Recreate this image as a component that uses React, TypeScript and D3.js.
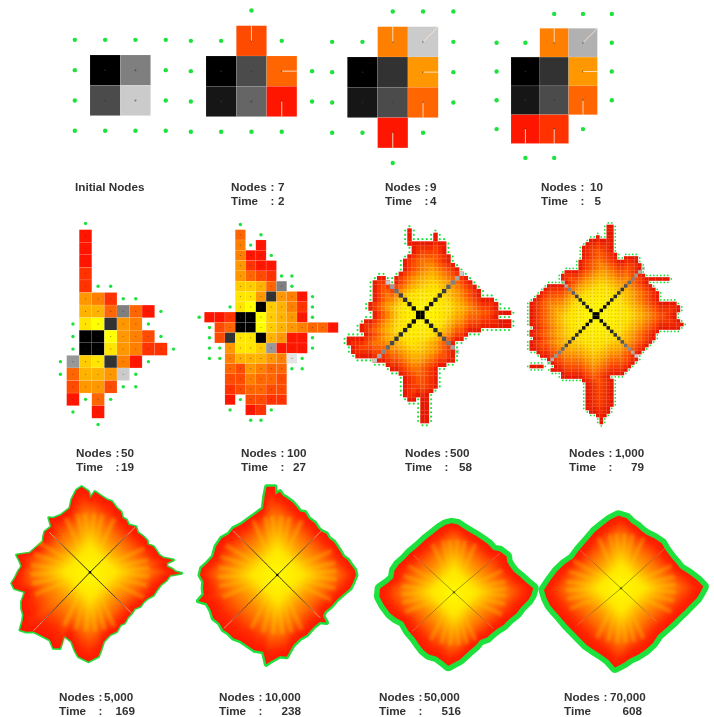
import React from "react";
import * as d3 from "d3";

// ---- Small panels: one string per grid row. '.' empty, '+' frontier node,
// 0-9 heat level (red to yellow), a-j grey level (black to light).
const rowsInitial = ["++++", "+af+", "+di+", "++++"];
const rows7 = ["..+", "++2+", "+ad3+", "+be0+", "++++"];
const rows9 = ["..+++", "++4i+", "+ac5+", "+bd3+", "++0+", "..+"];
const rows10 = ["..+++", "++4h+", "+ac5+", "+bd3+", "+01+", ".++"];
const rows50 = [
  "..+", "..0", "..0", "..0", "..1", "..1++", "..541++", "..663f30+",
  ".+89c54+", ".+aa9542+", ".+aa85411+", "+g78c40+", "+3665i+", ".2552++",
  ".0+3+", ".+.0", "...+",
];
const rows100 = [
  "....+", "....3.+", "....4+0", "....400+", "....5100", "....5321++", "....7763f+",
  "....885c540+", "...+89a7641+", "+001aa97650+", ".+23aa97654330", ".+2c88a6500+",
  ".++5887g000+", ".++466654j+", "...325433++", "...224332", "...123322", "...0+2211",
  "...+.01+", ".....++",
];

// leaf links: column, row, direction x, direction y
const links7 = [[1, 0, 0, -1], [2, 1, 1, 0], [2, 2, 0, 1]];
const links9 = [[1, 0, 0, -1], [2, 0, 1, -1], [2, 1, 1, 0], [2, 2, 0, 1], [1, 3, 0, 1]];
const links10 = [[1, 0, 0, -1], [2, 0, 1, -1], [2, 1, 1, 0], [2, 2, 0, 1], [0, 3, 0, 1], [1, 3, 0, 1]];

// ---- Medium panels: filled column spans per row (start, end, optional start, end)
const spans500 = [
  [14, 15], [14, 15, 20, 21], [14, 15, 20, 21], [14, 23], [15, 23], [15, 23], [14, 24],
  [13, 24], [13, 25], [13, 26], [12, 27], [7, 9, 11, 28], [6, 10, 11, 29], [6, 30], [6, 31], [6, 31],
  [6, 34], [5, 35], [5, 35], [6, 38], [6, 35], [4, 38], [3, 38], [3, 31], [4, 28], [0, 27], [0, 25],
  [1, 25], [1, 25], [2, 25], [6, 25], [9, 23], [10, 21], [12, 21], [13, 21], [13, 21], [13, 21],
  [13, 20], [13, 19], [14, 16, 17, 19], [17, 19], [17, 19], [17, 19], [17, 19], [17, 19],
];
const spans1000 = [
  [], [], [23, 25], [23, 25], [23, 25], [20, 21, 23, 25], [18, 25], [17, 25], [16, 25], [16, 25],
  [16, 26], [16, 26, 28, 32], [15, 32], [15, 33], [15, 33], [11, 33], [10, 34], [10, 41], [11, 35],
  [6, 36], [5, 37], [4, 38], [3, 38], [2, 38], [1, 43], [1, 44], [1, 44], [1, 43], [1, 43], [1, 44],
  [1, 45], [2, 44], [1, 38], [1, 37], [2, 37], [1, 36], [1, 35], [1, 34], [3, 33], [4, 32], [6, 32],
  [7, 31], [1, 5, 8, 30], [7, 29], [10, 28], [10, 24], [16, 25], [17, 25], [17, 25], [17, 25], [17, 25],
  [17, 25], [17, 25], [17, 25], [17, 24], [18, 24], [20, 23], [21, 22], [21, 22],
];
// diagonal arm lengths in cells: NE, SE, SW, NW
const arms500 = [9, 8, 10, 7];
const arms1000 = [13, 11, 13, 9];

// ---- Large panels: outline as [angle in degrees clockwise from north, radius]
const outline5000 = [[354.4,258],[359,242],[0,220],[3.5,242],[8,232],[13,223],[17,222],[22.6,208],[27,204],[31,190],[35,191],[39,183],[45.2,194],[50,186],[56,192],[61,196],[64,192],[68,205],[72,209],[76,213],[79,224],[81.6,253],[83,232],[85.8,231],[88,248],[89.6,255],[90.6,275],[92,240],[95.7,231],[100,215],[104.8,207],[110,202],[114,190],[118.8,183],[124,182],[129,172],[134.5,175],[140,176],[146,184],[150,182],[155.8,195],[162,196],[169,212],[172,235],[174.4,254],[181,268],[187.9,255],[191,238],[194.8,215],[203,204],[201.5,245],[205.8,253],[210.6,236],[216,238],[223.7,246],[227,262],[230.5,272],[234,250],[237.4,237],[242,232],[246.8,223],[250,212],[253.4,203],[258,232],[262,237],[266,224],[270.5,215],[275,205],[278.7,212],[283.3,226],[287.6,189],[295,177],[303.3,168],[308,176],[312,182],[320,179],[323,205],[325.8,196],[333,192],[342.6,201],[346,225],[350.8,250]];
const outline10000 = [[353.1,267],[358.5,265],[358.3,240],[1.8,250],[4,238],[7,232],[12,222],[15,214],[19.7,202],[24,205],[29,194],[36,192],[41,186],[45.6,186],[50,192],[55,190],[59.2,196],[64,198],[69,201],[74.5,205],[78,216],[82,223],[86.3,233],[90,236],[95,229],[100.4,222],[106,206],[112.8,193],[120,187],[127.6,180],[132,184],[134,205],[137.6,190],[145,190],[154,200],[160,202],[167,215],[170,228],[173.5,247],[178,243],[184.8,261],[187,270],[190.3,234],[197,236],[203.7,229],[209,226],[214.8,231],[220,228],[224.5,231],[230,226],[235.9,232],[242,226],[248.2,228],[251.8,249],[255,228],[259.8,226],[265,222],[270,232],[275,228],[280,212],[286,200],[295,203],[303.4,200],[310,190],[316.7,192],[325,186],[334.2,189],[341,194],[348.1,204],[351,240]];
const outline50000 = [[358,207],[3,204],[8,194],[15,186],[21,182],[27.9,178],[35,177],[42.9,173],[48,184],[55.9,191],[60,184],[65.4,185],[71,190],[76.6,203],[82,218],[87.1,238],[92,232],[95.9,224],[102,207],[108.5,198],[116,184],[123.5,178],[130,170],[137.4,167],[144,168],[151.4,163],[158,172],[166.4,183],[175,202],[184.4,221],[190,208],[195,200],[202,201],[208,196],[214,188],[220.3,181],[230,179],[240,176],[246,190],[251.8,202],[260,214],[266.7,224],[273,222],[278,200],[283,187],[290,190],[296.2,186],[304,178],[311.6,176],[322,174],[331,179],[340,186],[347.7,197],[353,204]];
const outline70000 = [[357.9,218],[4.6,211],[9,198],[14.3,191],[20,182],[25.7,178],[34,180],[42.1,182],[50,176],[59.4,177],[66,182],[71.3,187],[78,208],[84,230],[88.8,247],[93,238],[97.5,229],[103,214],[108.7,203],[116,192],[122.5,186],[132,180],[141.3,179],[150,190],[158.7,199],[166,206],[172.7,212],[178,224],[184.3,238],[190,218],[196.2,208],[204,202],[211.2,199],[220,194],[227.7,193],[236,196],[245.1,202],[251,210],[256.8,219],[263,226],[268.8,231],[276,214],[284.5,199],[293,184],[302.2,169],[312,170],[323.7,174],[335,186],[344.4,197],[351,208]];
// diagonals: angle and length
const rayAngles5000 = [45, 134.5, 224, 314.5];
const rayLengths5000 = [192, 175, 243, 171];
const rayAngles10000 = [45, 135, 225, 315];
const rayLengths10000 = [187, 182, 226, 187];
const rayAngles50000 = [49.7, 132.5, 227, 312.5];
const rayLengths50000 = [181, 160, 173, 166];
const rayAngles70000 = [47.7, 133, 230, 313];
const rayLengths70000 = [178, 146, 172, 168];
// lighter fan streaks around the axes, degrees
const streakAngles = [348, 355, 4, 12, 24, 66, 78, 86, 94, 103, 115, 156, 166, 175, 184, 194, 206, 248, 259, 268, 277, 288, 300, 336];

// ---- Captions
const nodeValues = ["7", "9", "10", "50", "100", "500", "1,000", "5,000", "10,000", "50,000", "70,000"];
const timeValues = ["2", "4", "5", "19", "27", "58", "79", "169", "238", "516", "608"];

// ---- Layout
const labelLeft = [231, 385, 541, 76, 241, 405, 569, 59, 219, 379, 564];
const labelValue = [278, 430, 590, 121, 287, 450, 615, 104, 265, 424, 610];
const labelTimeEnd = [0, 0, 601, 0, 306, 472, 644, 135, 301, 461, 642];
const labelY = [187, 187, 187, 453, 453, 453, 453, 697, 697, 697, 697];

const heat = d3.scaleLinear<string>().domain([0, 9]).range(["#ff1800", "#ffff00"]);
const grey = d3.scaleLinear<string>().domain([0, 9]).range(["#000000", "#e4e4e4"]);
const GREEN = "#1ee23c";

const ringColor = d3
  .scaleLinear<string>()
  .domain([0, 0.3, 0.5, 0.72, 0.9, 1])
  .range(["#ffff00", "#ffe800", "#ffa800", "#ff6a00", "#ff2a00", "#ff1a00"])
  .clamp(true);
const spanColor = d3
  .scaleLinear<string>()
  .domain([0, 0.45, 0.65, 0.85, 1])
  .range(["#ffff00", "#ffe000", "#ffa000", "#ff4a00", "#e81000"])
  .clamp(true);
const diagColor = d3.scaleLinear<string>().domain([0, 0.55, 1]).range(["#000000", "#3a3a3a", "#c8c8c8"]);
const radiusScale = d3.scaleLinear().domain([0, 1]).range([0, 1 / 3]);
const ringLevels = d3.range(0.97, 0, -0.025);

function cellFill(ch: string) {
  const code = ch.charCodeAt(0);
  if (code >= 48 && code <= 57) return heat(code - 48);
  return grey(code - 97);
}

function StringGrid({ rows, x0, y0, cell, dot, links }: { rows: string[]; x0: number; y0: number; cell: number; dot: number; links?: number[][] }) {
  const px = d3.scaleLinear().domain([0, 1]).range([x0 - cell, x0]);
  const py = d3.scaleLinear().domain([0, 1]).range([y0 - cell, y0]);
  const items = rows.flatMap((row, r) => row.split("").map((ch, c) => ({ ch, c, r }))).filter((d) => d.ch !== ".");
  return (
    <g>
      {items.filter((d) => d.ch !== "+").map((d) => (
        <rect key={`${d.c}-${d.r}`} x={px(d.c)} y={py(d.r)} width={cell} height={cell} fill={cellFill(d.ch)} stroke="#ffffff" strokeOpacity={0.18} strokeWidth={0.5} />
      ))}
      {items.filter((d) => d.ch !== "+").map((d) => (
        <circle key={`n${d.c}-${d.r}`} cx={px(d.c + 0.5)} cy={py(d.r + 0.5)} r={cell > 20 ? 1 : 0.6} fill="#333" fillOpacity={0.55} />
      ))}
      {(links || []).map((l, i) => (
        <line key={i} x1={x0 + (l[0] + 0.5) * cell} y1={y0 + (l[1] + 0.5) * cell} x2={x0 + (l[0] + 0.5 + l[2] / 2) * cell} y2={y0 + (l[1] + 0.5 + l[3] / 2) * cell} stroke="#ffe9d0" strokeWidth={1} strokeOpacity={0.85} />
      ))}
      {items.filter((d) => d.ch === "+").map((d) => (
        <circle key={`f${d.c}-${d.r}`} cx={px(d.c + 0.5)} cy={py(d.r + 0.5)} r={dot} fill={GREEN} />
      ))}
    </g>
  );
}

function SpanGrid({ spans, x0, y0, cell, centerCol, centerRow, arms }: { spans: number[][]; x0: number; y0: number; cell: number; centerCol: number; centerRow: number; arms: number[] }) {
  const filled = new Set<string>();
  const key = (c: number, r: number) => `${c},${r}`;
  spans.forEach((s, r) => {
    for (let i = 0; i < s.length; i += 2) d3.range(s[i], s[i + 1]).forEach((c) => filled.add(key(c, r)));
  });
  const cells = Array.from(filled).map((k) => k.split(",").map(Number));
  const depth = new Map<string, number>();
  let queue: number[][] = [];
  const nb = [[1, 0], [-1, 0], [0, 1], [0, -1]];
  const frontier = new Map<string, number[]>();
  cells.forEach(([c, r]) => {
    nb.forEach(([a, b]) => {
      if (!filled.has(key(c + a, r + b))) {
        frontier.set(key(c + a, r + b), [c + a, r + b]);
        if (!depth.has(key(c, r))) {
          depth.set(key(c, r), 1);
          queue.push([c, r]);
        }
      }
    });
  });
  while (queue.length) {
    const next: number[][] = [];
    queue.forEach(([c, r]) => {
      nb.forEach(([a, b]) => {
        const k = key(c + a, r + b);
        if (filled.has(k) && !depth.has(k)) {
          depth.set(k, (depth.get(key(c, r)) as number) + 1);
          next.push([c + a, r + b]);
        }
      });
    });
    queue = next;
  }
  const cx = centerCol;
  const cy = centerRow;
  const diag = new Map<string, string>();
  [[0, 0], [-1, 0], [0, -1], [-1, -1]].forEach(([a, b]) => diag.set(key(cx + a, cy + b), "#000000"));
  const dirs = [[1, -1], [1, 1], [-1, 1], [-1, -1]];
  arms.forEach((n, i) => {
    const [dx, dy] = dirs[i];
    d3.range(1, n + 1).forEach((k) => {
      const c = dx > 0 ? cx + k : cx - 1 - k;
      const r = dy > 0 ? cy + k : cy - 1 - k;
      diag.set(key(c, r), diagColor(k / n));
    });
  });
  const color = (c: number, r: number) => {
    const d = Math.hypot(c + 0.5 - cx, r + 0.5 - cy);
    const e = (depth.get(key(c, r)) as number) - 0.5;
    return spanColor(d / (d + e * 0.9));
  };
  return (
    <g>
      {cells.map(([c, r]) => (
        <rect key={key(c, r)} x={x0 + c * cell} y={y0 + r * cell} width={cell + 0.15} height={cell + 0.15} fill={color(c, r)} />
      ))}
      {cells.map(([c, r]) => (
        <circle key={`d${key(c, r)}`} cx={x0 + (c + 0.5) * cell} cy={y0 + (r + 0.5) * cell} r={0.42} fill="#5a3a00" fillOpacity={0.55} />
      ))}
      {Array.from(diag.entries()).map(([k, col]) => {
        const [c, r] = k.split(",").map(Number);
        return <rect key={`g${k}`} x={x0 + c * cell} y={y0 + r * cell} width={cell} height={cell} fill={col} />;
      })}
      {Array.from(frontier.values()).map(([c, r]) => (
        <circle key={`f${c},${r}`} cx={x0 + (c + 0.5) * cell} cy={y0 + (r + 0.5) * cell} r={cell * 0.25} fill={GREEN} />
      ))}
    </g>
  );
}

type Pt = { a: number; r: number };

function Blob({ cx, cy, outlineData, rayAngles, rayLengths, rim, rayOpacity }: { cx: number; cy: number; outlineData: number[][]; rayAngles: number[]; rayLengths: number[]; rim: number; rayOpacity: number }) {
  const pts: Pt[] = outlineData.map(([a, r]) => ({ a: (a * Math.PI) / 180, r }));
  const band = (d: Pt) => Math.abs(Math.sin(d.a)) + Math.abs(Math.cos(d.a));
  const meanDiamond = d3.mean(pts, (d) => d.r * band(d)) as number;
  const inner = (d: Pt) => meanDiamond / band(d);
  const outline = (k: number) =>
    d3
      .lineRadial<Pt>()
      .angle((d) => d.a)
      .radius((d) => radiusScale(inner(d) + (d.r - inner(d)) * k * k * k) * k)
      .curve(d3.curveLinearClosed)(pts) as string;
  const meanR = radiusScale(d3.mean(pts, (d) => d.r) as number);
  return (
    <g transform={`translate(${cx},${cy})`}>
      <path d={outline(1)} fill={ringColor(1)} stroke={GREEN} strokeWidth={rim} strokeLinejoin="round" />
      <path d={outline(1)} fill={ringColor(1)} />
      <g filter="url(#blobSoft)">
        {ringLevels.map((k) => (
          <path key={k} d={outline(k)} fill={ringColor(k)} />
        ))}
        {streakAngles.map((s) => {
          const t = (s * Math.PI) / 180;
          const w = 0.035;
          const L = meanR * 0.82;
          return (
            <path key={s} d={`M0,0L${Math.sin(t - w) * L},${-Math.cos(t - w) * L}L${Math.sin(t + w) * L},${-Math.cos(t + w) * L}Z`} fill="#ffe000" fillOpacity={0.3} />
          );
        })}
      </g>
      {rayAngles.map((a, i) => {
        const t = (a * Math.PI) / 180;
        const len = radiusScale(rayLengths[i]);
        return d3.range(0, 1, 0.05).map((s) => (
          <line key={`${i}-${s}`} x1={Math.sin(t) * len * s} y1={-Math.cos(t) * len * s} x2={Math.sin(t) * len * (s + 0.05)} y2={-Math.cos(t) * len * (s + 0.05)} stroke={s > 0.8 ? "#e8a890" : diagColor(s)} strokeWidth={1} strokeOpacity={rayOpacity} />
        ));
      })}
      <circle r={1.2} fill="#000" fillOpacity={rayOpacity} />
    </g>
  );
}

export default function App() {
  return (
    <svg width={714} height={717} viewBox="0 0 714 717" style={{ position: "absolute", left: 0, top: 0, background: "#fff" }}>
      <defs>
        <filter id="soft" x="-5%" y="-5%" width="110%" height="110%">
          <feGaussianBlur stdDeviation={0.45} />
        </filter>
        <filter id="blobSoft" x="-10%" y="-10%" width="120%" height="120%">
          <feGaussianBlur stdDeviation={1.6} />
        </filter>
      </defs>
      <g filter="url(#soft)">
        <StringGrid rows={rowsInitial} x0={90} y0={55} cell={30.3} dot={2.2} />
        <StringGrid rows={rows7} x0={206} y0={25.7} cell={30.3} dot={2.2} links={links7} />
        <StringGrid rows={rows9} x0={347.3} y0={26.7} cell={30.3} dot={2.2} links={links9} />
        <StringGrid rows={rows10} x0={511} y0={28.3} cell={28.8} dot={2.2} links={links10} />
        <StringGrid rows={rows50} x0={66.67} y0={229.67} cell={12.57} dot={1.7} />
        <StringGrid rows={rows100} x0={204.33} y0={229.67} cell={10.3} dot={1.7} />
        <SpanGrid spans={spans500} x0={346.67} y0={228.33} cell={4.33} centerCol={17} centerRow={20} arms={arms500} />
        <SpanGrid spans={spans1000} x0={526} y0={217.67} cell={3.5} centerCol={20} centerRow={28} arms={arms1000} />
        <Blob cx={90} cy={572.3} outlineData={outline5000} rayAngles={rayAngles5000} rayLengths={rayLengths5000} rim={3.2} rayOpacity={0.9} />
        <Blob cx={277.3} cy={575} outlineData={outline10000} rayAngles={rayAngles10000} rayLengths={rayLengths10000} rim={5} rayOpacity={0.85} />
        <Blob cx={454} cy={592.3} outlineData={outline50000} rayAngles={rayAngles50000} rayLengths={rayLengths50000} rim={11} rayOpacity={0.4} />
        <Blob cx={621} cy={588.3} outlineData={outline70000} rayAngles={rayAngles70000} rayLengths={rayLengths70000} rim={11} rayOpacity={0.4} />
      </g>
      <g fontFamily="'Liberation Sans', Arial, sans-serif" fontWeight="bold" fontSize={11.7} fill="#333" filter="url(#soft)">
        <text x={75} y={191}>Initial Nodes</text>
        {nodeValues.map((v, i) => {
          const colon = labelLeft[i] + 39.5;
          const y = labelY[i] + 4;
          const end = labelTimeEnd[i];
          return (
            <g key={v}>
              <text x={labelLeft[i]} y={y}>Nodes</text>
              <text x={colon} y={y}>:</text>
              <text x={labelValue[i]} y={y}>{v}</text>
              <text x={labelLeft[i]} y={y + 13.5}>Time</text>
              {i < 10 && <text x={colon} y={y + 13.5}>:</text>}
              <text x={end || labelValue[i]} y={y + 13.5} textAnchor={end ? "end" : "start"}>{timeValues[i]}</text>
            </g>
          );
        })}
      </g>
    </svg>
  );
}
